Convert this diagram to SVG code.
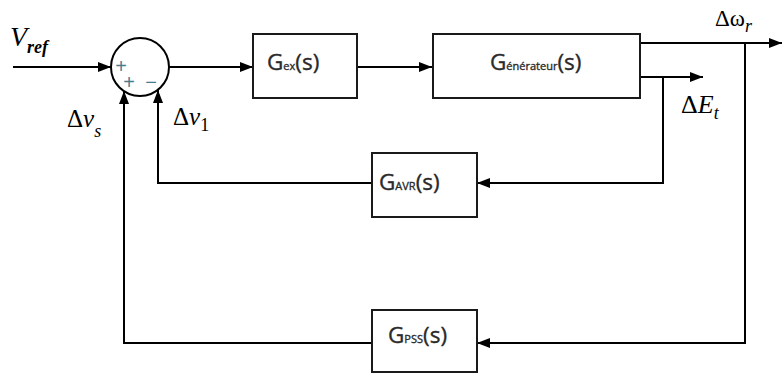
<svg xmlns="http://www.w3.org/2000/svg" width="782" height="376" viewBox="0 0 782 376">
<defs>
<marker id="ah" viewBox="0 0 13 10" refX="13" refY="5" markerWidth="13" markerHeight="10" markerUnits="userSpaceOnUse" orient="auto">
<path d="M0,0 L13,5 L0,10 Z" fill="#000"/>
</marker>
<style>
.ln{fill:none;stroke:#000;stroke-width:2}
.bx{fill:#fff;stroke:#1a1a1a;stroke-width:2}
.bt{font-family:"Open Sans","Lato",sans-serif;fill:#2a2a2a;stroke:#2a2a2a;stroke-width:0.35}
.big{font-size:22.5px}
.sm{font-size:11px}
.tm{font-family:"Liberation Serif","Times New Roman",serif;fill:#000}
.sg{font-family:"Liberation Sans",sans-serif;font-size:20px;fill:#4a7c8f;text-anchor:middle}
</style>
</defs>
<rect width="782" height="376" fill="#fff"/>
<g id="connectors">
<line class="ln" x1="13" y1="67" x2="111" y2="67" marker-end="url(#ah)"/>
<line class="ln" x1="169" y1="67" x2="253" y2="67" marker-end="url(#ah)"/>
<line class="ln" x1="357" y1="67" x2="432" y2="67" marker-end="url(#ah)"/>
<line class="ln" x1="640" y1="43" x2="782" y2="43" marker-end="url(#ah)"/>
<line class="ln" x1="640" y1="77" x2="703" y2="77" marker-end="url(#ah)"/>
<polyline class="ln" points="663,77 663,183 477,183" marker-end="url(#ah)"/>
<polyline class="ln" points="372,183 158,183 158,90" marker-end="url(#ah)"/>
<polyline class="ln" points="745,43 745,343 477,343" marker-end="url(#ah)"/>
<polyline class="ln" points="372,343 124,343 124,91" marker-end="url(#ah)"/>
</g>
<g id="sum">
<circle cx="140" cy="67" r="29" fill="#fff" stroke="#000" stroke-width="2"/>
<text class="sg" x="121" y="73">+</text>
<text class="sg" x="129" y="89">+</text>
<text class="sg" x="151" y="89">−</text>
</g>
<g id="gex">
<rect class="bx" x="253" y="34" width="104" height="64"/>
<text class="bt" x="267" y="70"><tspan class="big">G</tspan><tspan class="sm">ex</tspan><tspan class="big">(s)</tspan></text>
</g>
<g id="gen">
<rect class="bx" x="433" y="34" width="207" height="64"/>
<text class="bt" x="490" y="70"><tspan class="big">G</tspan><tspan class="sm">énérateur</tspan><tspan class="big">(s)</tspan></text>
</g>
<g id="gavr">
<rect class="bx" x="372" y="153" width="105" height="64"/>
<text class="bt" x="379" y="190"><tspan class="big">G</tspan><tspan class="sm">AVR</tspan><tspan class="big">(s)</tspan></text>
</g>
<g id="gpss">
<rect class="bx" x="372" y="310" width="105" height="62"/>
<text class="bt" x="388" y="343"><tspan class="big">G</tspan><tspan class="sm">PSS</tspan><tspan class="big">(s)</tspan></text>
</g>
<g id="labels">
<text class="tm" x="10" y="46" font-size="28" font-style="italic">V<tspan font-size="18" font-weight="bold" dy="7">ref</tspan></text>
<text class="tm" x="67" y="127" font-size="25">Δ<tspan font-style="italic">v</tspan><tspan font-size="18" font-style="italic" dy="10">s</tspan></text>
<text class="tm" x="173" y="125" font-size="25">Δ<tspan font-style="italic">v</tspan><tspan font-size="18" dy="6">1</tspan></text>
<text class="tm" x="715" y="26" font-size="23">Δω<tspan font-size="18" font-style="italic" dy="6">r</tspan></text>
<text class="tm" x="681" y="113" font-size="26">Δ<tspan font-style="italic">E</tspan><tspan font-size="18" font-style="italic" dy="6">t</tspan></text>
</g>
</svg>
